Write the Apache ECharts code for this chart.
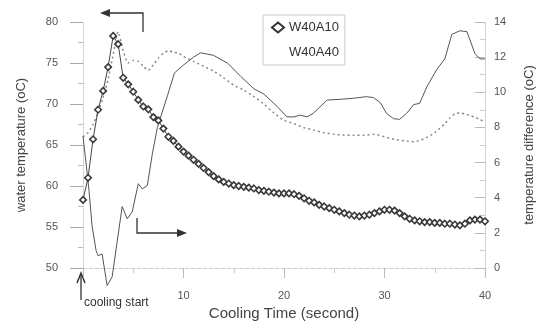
<!DOCTYPE html>
<html>
<head>
<meta charset="utf-8">
<script src="https://cdn.jsdelivr.net/npm/echarts@6/dist/echarts.min.js"></script>
<style>
  html, body { margin: 0; padding: 0; background: #fff; }
  #chart { width: 547px; height: 327px; }
</style>
</head>
<body>
<div id="chart"></div>
<script>
// W40A10 water temperature (diamonds, left axis)
var a10Time = [0, 0.5, 1, 1.5, 2, 2.5, 3, 3.5, 4, 4.5, 5, 5.5, 6, 6.5, 7, 7.5, 8, 8.5, 9, 9.5,
  10, 10.5, 11, 11.5, 12, 12.5, 13, 13.5, 14, 14.5, 15, 15.5, 16, 16.5, 17, 17.5, 18, 18.5, 19, 19.5,
  20, 20.5, 21, 21.5, 22, 22.5, 23, 23.5, 24, 24.5, 25, 25.5, 26, 26.5, 27, 27.5, 28, 28.5, 29, 29.5,
  30, 30.5, 31, 31.5, 32, 32.5, 33, 33.5, 34, 34.5, 35, 35.5, 36, 36.5, 37, 37.5, 38, 38.5, 39, 39.5, 40];
var a10Temp = [58.3, 61.0, 65.7, 69.3, 71.6, 74.5, 78.3, 77.3, 73.2, 72.4, 71.5, 70.5, 69.7, 69.35,
  68.4, 68.0, 67.0, 66.0, 65.5, 64.8, 64.2, 63.7, 63.2, 62.7, 62.2, 61.7, 61.2, 60.8,
  60.5, 60.3, 60.1, 60.0, 59.9, 59.8, 59.7, 59.5, 59.4, 59.3, 59.2, 59.1, 59.1, 59.1,
  59.0, 58.8, 58.5, 58.2, 58.0, 57.7, 57.5, 57.3, 57.1, 56.9, 56.7, 56.5, 56.4, 56.3,
  56.4, 56.5, 56.7, 56.9, 57.1, 57.1, 57.0, 56.7, 56.3, 56.0, 55.8, 55.7, 55.6, 55.6,
  55.5, 55.5, 55.4, 55.4, 55.3, 55.2, 55.4, 55.8, 55.9, 55.9, 55.7];

// W40A40 water temperature (dotted, left axis)
var a40Time = [0, 0.5, 1, 1.5, 2, 2.5, 3, 3.5, 4, 4.5, 5, 5.5, 6, 6.5, 7, 7.5, 8, 8.5, 9, 9.5,
  10, 11, 12, 13, 14, 15, 16, 17, 18, 19, 20, 21, 22, 23, 24, 25, 26, 27, 28, 29,
  30, 31, 32, 33, 34, 35, 36, 36.5, 37, 37.5, 38, 38.5, 39, 39.5, 40];
var a40Temp = [66.0, 66.5, 67.5, 69.0, 70.8, 73.0, 76.0, 78.8, 76.5, 75.0, 75.3, 75.2, 74.6, 74.1, 74.8, 75.6, 76.2, 76.5, 76.3, 76.2,
  75.8, 75.2, 74.6, 74.0, 73.2, 72.3, 71.7, 70.9, 70.0, 68.9, 68.0, 67.6, 67.1, 66.8, 66.5, 66.3, 66.2, 66.2, 66.2, 66.3,
  66.0, 65.7, 65.5, 65.4, 65.8, 66.5, 67.6, 68.3, 68.8, 68.9, 68.8, 68.6, 68.4, 68.1, 67.8];

// temperature difference (solid, right axis)
var diffTime = [0, 0.3, 0.6, 0.9, 1.3, 1.5, 1.9, 2.4, 2.9, 3.4, 3.9, 4.4, 4.9, 5.5, 5.9, 6.4, 6.9, 7.4, 8.4, 9.1,
  10, 11, 11.7, 13, 14.4, 15.7, 17, 18, 19.3, 20.3, 21, 21.6, 22.3, 22.9, 24.3, 25.6, 26.9, 28.2, 28.9, 29.6,
  30.2, 30.9, 31.5, 32.2, 32.9, 33.5, 34.2, 35.2, 36, 36.7, 37.5, 38.2, 39, 39.5, 40];
var diffVal = [7.5, 6.0, 4.4, 2.4, 1.0, 0.7, 0.8, -1.0, -0.5, 1.5, 3.5, 2.8, 3.2, 4.8, 4.5, 4.7, 6.5, 8.0, 9.8, 11.1,
  11.55, 12.0, 12.25, 12.1, 11.65, 10.9, 10.2, 9.9, 9.2, 8.6, 8.6, 8.7, 8.6, 8.8, 9.56, 9.6, 9.66, 9.75, 9.7, 9.4,
  8.8, 8.5, 8.46, 8.8, 9.3, 9.37, 10.3, 11.3, 11.9, 13.3, 13.5, 13.45, 12.2, 11.9, 11.9];

var leftTicks = { min: 50, max: 80, step: 5 };
var rightTicks = { min: 0, max: 14, step: 2 };
var timeTicks = { min: 0, max: 40, step: 10 };

function pairs(xs, ys) {
  return xs.map(function (x, i) { return [x, ys[i]]; });
}

var chartDom = document.getElementById('chart');
var myChart = echarts.init(chartDom);
var option;

var axisText = { color: '#555', fontSize: 11, fontFamily: 'Liberation Sans' };
var titleText = { color: '#444', fontSize: 13, fontFamily: 'Liberation Sans' };

option = {
  animation: false,
  backgroundColor: '#fff',
  grid: { left: 83, right: 62, top: 22, bottom: 59 },
  legend: {
    orient: 'vertical',
    left: 263,
    top: 15,
    width: 82,
    padding: [6, 6, 6, 8],
    itemGap: 12,
    itemWidth: 12,
    itemHeight: 10,
    borderColor: '#ccc',
    borderWidth: 1,
    textStyle: { color: '#333', fontSize: 13, fontFamily: 'Liberation Sans' },
    data: [
      { name: 'W40A10', icon: 'diamond', itemStyle: { color: '#fff', borderColor: '#333', borderWidth: 2 } },
      { name: 'W40A40', icon: 'none' }
    ]
  },
  xAxis: {
    type: 'value',
    min: timeTicks.min,
    max: timeTicks.max,
    interval: timeTicks.step,
    name: 'Cooling Time (second)',
    nameLocation: 'middle',
    nameGap: 36,
    nameTextStyle: { color: '#444', fontSize: 15, fontFamily: 'Liberation Sans' },
    axisLine: { show: true, lineStyle: { color: '#ccc', type: 'dashed' } },
    axisTick: { show: true, length: 10, lineStyle: { color: '#bbb' } },
    minorTick: { show: true, splitNumber: 2, length: 5, lineStyle: { color: '#ccc' } },
    splitLine: { show: false },
    axisLabel: Object.assign({ margin: 22, formatter: function (v) { return v === 0 ? '' : v; } }, axisText)
  },
  yAxis: [
    {
      type: 'value',
      position: 'left',
      min: leftTicks.min,
      max: leftTicks.max,
      interval: leftTicks.step,
      name: 'water temperature (oC)',
      nameLocation: 'middle',
      nameGap: 55,
      nameRotate: 90,
      nameTextStyle: titleText,
      axisLine: { show: true, lineStyle: { color: '#ccc', type: 'dotted' } },
      axisTick: { show: true, length: 13, lineStyle: { color: '#aaa' } },
      minorTick: { show: true, splitNumber: 2, length: 5, lineStyle: { color: '#bbb' } },
      splitLine: { show: false },
      axisLabel: Object.assign({ margin: 25 }, axisText)
    },
    {
      type: 'value',
      position: 'right',
      min: rightTicks.min,
      max: rightTicks.max,
      interval: rightTicks.step,
      name: 'temperature difference (oC)',
      nameLocation: 'middle',
      nameGap: 38,
      nameRotate: 90,
      nameTextStyle: titleText,
      axisLine: { show: true, lineStyle: { color: '#ccc', type: 'dotted' } },
      axisTick: { show: true, inside: true, length: 10, lineStyle: { color: '#bbb' } },
      minorTick: { show: true, splitNumber: 2, length: 5, lineStyle: { color: '#ccc' } },
      splitLine: { show: false },
      axisLabel: Object.assign({ margin: 9 }, axisText)
    }
  ],
  series: [
    {
      name: 'W40A40',
      type: 'line',
      yAxisIndex: 0,
      data: pairs(a40Time, a40Temp),
      showSymbol: false,
      symbol: 'none',
      smooth: 0.2,
      lineStyle: { color: '#8a8a8a', width: 1.5, type: [2, 3] },
      itemStyle: { color: '#888' },
      z: 2
    },
    {
      name: 'temperature difference',
      type: 'line',
      yAxisIndex: 1,
      data: pairs(diffTime, diffVal),
      clip: false,
      showSymbol: false,
      symbol: 'none',
      lineStyle: { color: '#555', width: 1 },
      z: 3
    },
    {
      name: 'W40A10',
      type: 'line',
      yAxisIndex: 0,
      data: pairs(a10Time, a10Temp),
      symbol: 'diamond',
      symbolSize: 6.5,
      showAllSymbol: true,
      lineStyle: { color: '#444', width: 1 },
      itemStyle: { color: '#fff', borderColor: '#3a3a3a', borderWidth: 1.6 },
      z: 4
    }
  ],
  graphic: [
    // left-pointing arrow at top (left axis)
    { type: 'polyline', shape: { points: [[143, 32], [143, 13], [106, 13]] }, style: { stroke: '#333', lineWidth: 1.3, fill: null } },
    { type: 'polygon', shape: { points: [[100, 13], [110, 9], [110, 17]] }, style: { fill: '#333' } },
    // right-pointing arrow at bottom (right axis)
    { type: 'polyline', shape: { points: [[137, 218], [137, 233], [180, 233]] }, style: { stroke: '#333', lineWidth: 1.3, fill: null } },
    { type: 'polygon', shape: { points: [[187, 233], [177, 229], [177, 237]] }, style: { fill: '#333' } },
    // cooling start marker
    { type: 'polyline', shape: { points: [[81, 300], [81, 274]] }, style: { stroke: '#333', lineWidth: 1.3, fill: null } },
    { type: 'polyline', shape: { points: [[77, 283], [81, 273], [85, 283]] }, style: { stroke: '#333', lineWidth: 1.5, fill: null } },
    {
      type: 'text', left: 84, top: 297,
      style: { text: 'cooling start', fill: '#333', fontSize: 12, fontFamily: 'Liberation Sans' }
    }
  ]
};

if (option && typeof option === 'object') {
  myChart.setOption(option);
}
</script>
</body>
</html>
